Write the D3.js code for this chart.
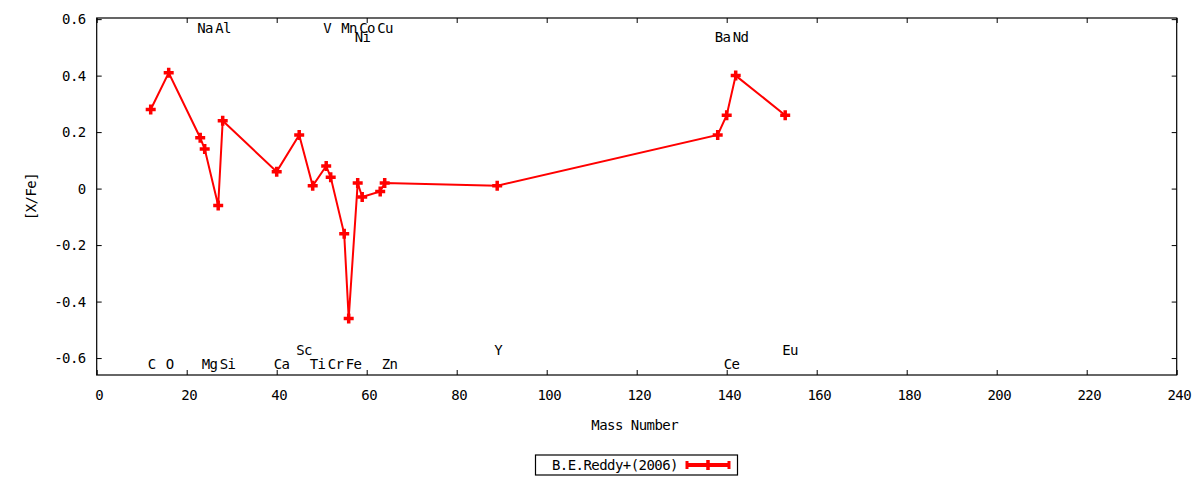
<!DOCTYPE html>
<html>
<head>
<meta charset="utf-8">
<script src="https://cdn.jsdelivr.net/npm/d3@7/dist/d3.min.js"></script>
<style>
  body { margin: 0; background: #fff; }
  text { font-family: "DejaVu Sans Mono", monospace; font-size: 14px; letter-spacing: -0.55px; fill: #000; }
</style>
</head>
<body>
<svg id="chart"></svg>
<script>
// element abundances, B.E.Reddy+(2006)
var elements    = ["C","O","Na","Mg","Al","Si","Ca","Sc","Ti","V","Cr","Mn","Fe","Ni","Co","Cu","Zn","Y","Ba","Ce","Nd","Eu"];
var massNumbers = [12, 16, 23, 24, 27, 28, 40, 45, 48, 51, 52, 55, 56, 58, 59, 63, 64, 89, 138, 140, 142, 153];
var xFe         = [0.28, 0.41, 0.18, 0.14, -0.06, 0.24, 0.06, 0.19, 0.01, 0.08, 0.04, -0.16, -0.46, 0.02, -0.03, -0.01, 0.02, 0.01, 0.19, 0.26, 0.40, 0.26];
// [X/Fe] height where each element name is written
var labelLevel  = [-0.62, -0.62, 0.57, -0.62, 0.57, -0.62, -0.62, -0.57, -0.62, 0.57, -0.62, 0.57, -0.62, 0.535, 0.57, 0.57, -0.62, -0.57, 0.535, -0.62, 0.535, -0.57];

var xTickValues = [0, 20, 40, 60, 80, 100, 120, 140, 160, 180, 200, 220, 240];
var yTickValues = [-0.6, -0.4, -0.2, 0, 0.2, 0.4, 0.6];
var seriesName = "B.E.Reddy+(2006)";

// note: "top" is window.top, so use other names
var W = 1200, H = 480,
    pL = 96.7, pR = 1176.7, pT = 18, pB = 375,
    red = "#ff0000";

var svg = d3.select("#chart").attr("width", W).attr("height", H);

var x = d3.scaleLinear().domain([0, 240]).range([pL, pR]);
var y = d3.scaleLinear().domain([-0.66, 0.604]).range([pB, pT]);

var fmtY = function(d) { return d === 0 ? "0" : String(+d.toFixed(1)); };

function styleAxis(g) {
  g.select(".domain").remove();
  g.attr("font-family", null).attr("font-size", null);
  g.selectAll("line").attr("stroke", "#000");
}

// bottom + top
svg.append("g").attr("transform", "translate(0," + pB + ")")
  .call(d3.axisBottom(x).tickValues(xTickValues).tickSizeInner(-5).tickSizeOuter(0).tickPadding(15))
  .call(styleAxis)
  .selectAll("text").attr("dx", 2);
svg.append("g").attr("transform", "translate(0," + pT + ")")
  .call(d3.axisTop(x).tickValues(xTickValues).tickSizeInner(-5).tickSizeOuter(0).tickFormat(""))
  .call(styleAxis);

// left + right
svg.append("g").attr("transform", "translate(" + pL + ",0)")
  .call(d3.axisLeft(y).tickValues(yTickValues).tickSizeInner(-5).tickSizeOuter(0).tickPadding(11).tickFormat(fmtY))
  .call(styleAxis);
svg.append("g").attr("transform", "translate(" + pR + ",0)")
  .call(d3.axisRight(y).tickValues(yTickValues).tickSizeInner(-5).tickSizeOuter(0).tickFormat(""))
  .call(styleAxis);

// frame
svg.append("rect")
  .attr("x", pL).attr("y", pT)
  .attr("width", pR - pL).attr("height", pB - pT)
  .attr("fill", "none").attr("stroke", "#000").attr("stroke-width", 1.2);

// axis titles
svg.append("text")
  .attr("x", (pL + pR) / 2 - 2).attr("y", 430)
  .attr("text-anchor", "middle")
  .text("Mass Number");
svg.append("text")
  .attr("transform", "translate(36," + ((pT + pB) / 2) + ") rotate(-90)")
  .attr("text-anchor", "middle")
  .text("[X/Fe]");

// element names
svg.append("g").selectAll("text")
  .data(elements).enter()
  .append("text")
  .attr("x", function(d, i) { return x(massNumbers[i]) - 3; })
  .attr("y", function(d, i) { return y(labelLevel[i]) + 5; })
  .text(function(d) { return d; });

// series
var pts = massNumbers.map(function(m, i) { return [m, xFe[i]]; });
var plus = "M-5,0H5M0,-5V5";

svg.append("path")
  .datum(pts)
  .attr("fill", "none")
  .attr("stroke", red)
  .attr("stroke-width", 2)
  .attr("d", d3.line().x(function(d) { return x(d[0]); }).y(function(d) { return y(d[1]); }));

svg.append("g").selectAll("path")
  .data(pts).enter()
  .append("path")
  .attr("transform", function(d) { return "translate(" + x(d[0]) + "," + y(d[1]) + ")"; })
  .attr("d", plus)
  .attr("stroke", red)
  .attr("stroke-width", 3.5)
  .attr("fill", "none");

// legend
var lg = svg.append("g");
lg.append("rect")
  .attr("x", 535.5).attr("y", 455)
  .attr("width", 202).attr("height", 20)
  .attr("fill", "#fff").attr("stroke", "#000").attr("stroke-width", 1.2);
lg.append("text")
  .attr("x", 678).attr("y", 470)
  .attr("text-anchor", "end")
  .text(seriesName);
lg.append("line")
  .attr("x1", 687).attr("x2", 729).attr("y1", 465).attr("y2", 465)
  .attr("stroke", red).attr("stroke-width", 4);
[687, 729].forEach(function(cx) {
  lg.append("line")
    .attr("x1", cx).attr("x2", cx).attr("y1", 461).attr("y2", 469)
    .attr("stroke", red).attr("stroke-width", 3);
});
lg.append("path")
  .attr("transform", "translate(708,465)")
  .attr("d", plus)
  .attr("stroke", red).attr("stroke-width", 3.5).attr("fill", "none");
</script>
</body>
</html>
